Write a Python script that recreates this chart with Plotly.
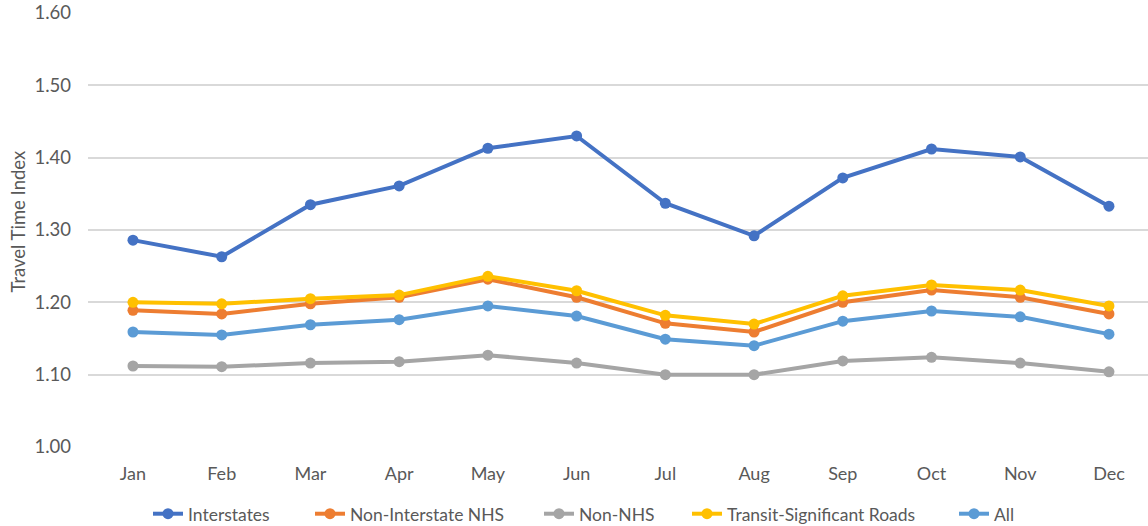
import plotly.graph_objects as go

months = ["Jan", "Feb", "Mar", "Apr", "May", "Jun", "Jul", "Aug", "Sep", "Oct", "Nov", "Dec"]

interstates = [1.286, 1.263, 1.335, 1.361, 1.413, 1.430, 1.337, 1.292, 1.372, 1.412, 1.401, 1.333]
non_interstate_nhs = [1.189, 1.184, 1.198, 1.207, 1.232, 1.207, 1.171, 1.159, 1.200, 1.217, 1.207, 1.184]
non_nhs = [1.112, 1.111, 1.116, 1.118, 1.127, 1.116, 1.100, 1.100, 1.119, 1.124, 1.116, 1.104]
transit_roads = [1.200, 1.198, 1.205, 1.210, 1.236, 1.216, 1.182, 1.170, 1.209, 1.224, 1.217, 1.195]
all_roads = [1.159, 1.155, 1.169, 1.176, 1.195, 1.181, 1.149, 1.140, 1.174, 1.188, 1.180, 1.156]

series = [
    ("Interstates", interstates, "#4472C4"),
    ("Non-Interstate NHS", non_interstate_nhs, "#ED7D31"),
    ("Non-NHS", non_nhs, "#A5A5A5"),
    ("Transit-Significant Roads", transit_roads, "#FFC000"),
    ("All", all_roads, "#5B9BD5"),
]

y_ticks = [1.00, 1.10, 1.20, 1.30, 1.40, 1.50, 1.60]

FONT = "Lato, 'Open Sans', sans-serif"
TEXT = "#595959"

# plot area in pixels (left edge, width) used to place legend entries
PLOT_L, PLOT_W = 88, 1060
# left pixel of each legend entry's text
legend_text_x = [190, 352, 581, 729, 996]

fig = go.Figure()
legend_layouts = {}
for i, (name, vals, color) in enumerate(series):
    key = "legend" if i == 0 else f"legend{i + 1}"
    fig.add_trace(go.Scatter(
        x=list(range(len(months))), y=vals, name=name,
        mode="lines+markers",
        line=dict(color=color, width=4),
        marker=dict(color=color, size=11),
        legend=key,
    ))
    legend_layouts[key] = dict(
        orientation="h",
        x=(legend_text_x[i] - 42 - PLOT_L) / PLOT_W, xanchor="left",
        y=-0.154, yanchor="middle",
        font=dict(size=17.5, color=TEXT),
        bgcolor="rgba(0,0,0,0)",
    )

fig.update_layout(
    width=1148, height=526, autosize=False,
    margin=dict(l=88, r=0, t=13, b=79, autoexpand=False),
    paper_bgcolor="white", plot_bgcolor="white",
    font=dict(family=FONT, size=17, color=TEXT),
    showlegend=True,
    xaxis=dict(
        range=[-0.507, 11.44],
        tickmode="array", tickvals=list(range(len(months))), ticktext=months,
        showgrid=False, zeroline=False, showline=False,
        ticks="", ticklabelstandoff=14,
        tickfont=dict(size=18, color=TEXT),
    ),
    yaxis=dict(
        range=[1.0, 1.6],
        tickmode="array", tickvals=y_ticks,
        ticktext=[f"{v:.2f}" for v in y_ticks],
        showgrid=True, gridcolor="#D9D9D9", gridwidth=1.5,
        zeroline=False, showline=False, ticks="",
        ticklabelstandoff=16,
        tickfont=dict(size=18.5, color=TEXT),
    ),
    annotations=[dict(
        text="Travel Time Index", textangle=-90,
        xref="paper", yref="paper",
        x=(17.5 - PLOT_L) / PLOT_W, y=(447 - 222) / 434,
        xanchor="center", yanchor="middle", showarrow=False,
        font=dict(size=18.5, color=TEXT),
    )],
    **legend_layouts,
)

fig.write_html("out.html")
